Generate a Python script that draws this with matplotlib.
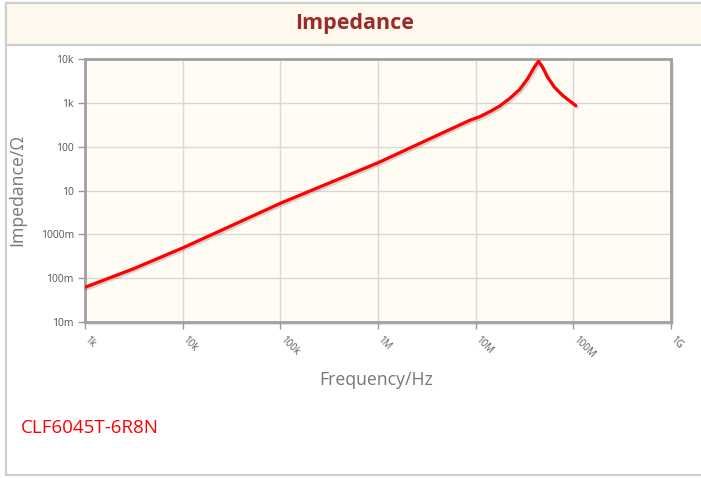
import matplotlib
matplotlib.use("Agg")
import matplotlib.pyplot as plt
import matplotlib.patheffects as pe
from matplotlib.patches import Rectangle

# Data
freq_hz = [1e3, 3.16e3, 1e4, 1e5, 1e6, 8.7e6, 1.1e7, 1.39e7, 1.75e7, 2.22e7, 2.81e7,
           3.4e7, 3.98e7, 4.4e7, 4.84e7, 5.44e7, 6.37e7, 7.73e7, 1.06e8]
impedance_ohm = [0.062, 0.165, 0.49, 5.1, 43, 400, 483, 627, 838, 1250, 2000,
                 3540, 6500, 8870, 6500, 3860, 2300, 1490, 860]

x_ticks = [1e3, 1e4, 1e5, 1e6, 1e7, 1e8, 1e9]
x_tick_labels = ["1k", "10k", "100k", "1M", "10M", "100M", "1G"]
y_ticks = [1e-2, 1e-1, 1, 10, 100, 1e3, 1e4]
y_tick_labels = ["10m", "100m", "1000m", "10", "100", "1k", "10k"]

title = "Impedance"
part_name = "CLF6045T-6R8N"

plt.rcParams['font.family'] = ['Open Sans', 'DejaVu Sans']

W, H = 701, 478
fig = plt.figure(figsize=(W / 100, H / 100), dpi=100)
fig.patch.set_facecolor('white')

def fx(px):
    return px / W

def fy(py):
    return 1 - py / H

# outer panel border
fig.add_artist(Rectangle((fx(6), fy(475)), fx(720) - fx(6), fy(3) - fy(475),
                         transform=fig.transFigure, facecolor='white',
                         edgecolor='#cfcfcf', lw=1.6, zorder=-3))
# title band
fig.add_artist(Rectangle((fx(6), fy(45)), fx(720) - fx(6), fy(3) - fy(45),
                         transform=fig.transFigure, facecolor='#fef9ec',
                         edgecolor='#cfcfcf', lw=1.6, zorder=1))
fig.text(fx(355), fy(24), title, ha='center', va='center', fontsize=15.5,
         fontweight='bold', color='#9b2a2a')

# plot frame shadow
L, R, T, B = 85, 671, 59, 322
fig.add_artist(Rectangle((fx(L + 3), fy(B + 3)), fx(R) - fx(L), fy(T) - fy(B),
                         transform=fig.transFigure, facecolor='#e4e4e4',
                         edgecolor='none', zorder=-1))

ax = fig.add_axes([fx(L), fy(B), fx(R) - fx(L), fy(T) - fy(B)])
ax.set_facecolor('#fffcf4')
ax.set_xscale('log')
ax.set_yscale('log')
ax.set_xlim(1e3, 1e9)
ax.set_ylim(1e-2, 1e4)

ax.plot(freq_hz, impedance_ohm, color='#ff0000', lw=2.3, solid_joinstyle='round',
        solid_capstyle='round', zorder=5,
        path_effects=[pe.SimpleLineShadow(offset=(1.2, -1.2), shadow_color='#555555', alpha=0.25),
                      pe.Normal()])

ax.set_xticks(x_ticks)
ax.set_xticklabels([])
ax.set_yticks(y_ticks)
ax.set_yticklabels(y_tick_labels, fontsize=7.5, color='#555555')
ax.minorticks_off()
ax.grid(True, color='#d8d8d8', lw=1)
ax.set_axisbelow(True)
ax.tick_params(axis='both', length=5, width=1, color='#999999', pad=3)

for s in ax.spines.values():
    s.set_color('#a0a0a0')
    s.set_linewidth(2)

for xv, lab in zip(x_ticks, x_tick_labels):
    ax.annotate(lab, xy=(xv, 1e-2), xycoords='data', xytext=(1, -12),
                textcoords='offset points', ha='left', va='center',
                rotation=-45, rotation_mode='anchor', fontsize=7,
                color='#555555', annotation_clip=False)

fig.text(fx(17), fy(190), "Impedance/Ω", rotation=90, ha='center', va='center',
         fontsize=12.7, color='#777777')
fig.text(fx(376), fy(380), "Frequency/Hz", ha='center', va='center',
         fontsize=12.7, color='#777777')
fig.text(fx(21), fy(428), part_name, ha='left', va='center', fontsize=13.5,
         color='#ff0000')

fig.savefig('out.png', dpi=100)
